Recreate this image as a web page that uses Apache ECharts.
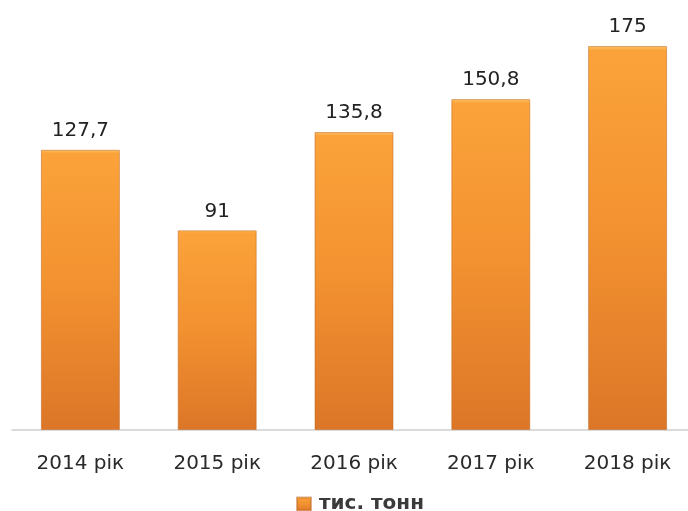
<!DOCTYPE html>
<html><head><meta charset="utf-8">
<script src="https://cdn.jsdelivr.net/npm/echarts@6/dist/echarts.min.js"></script>
<style>html,body{margin:0;padding:0;background:#fff}#c{width:688px;height:511px}</style>
</head><body><div id="c"></div>
<script>
var categories = ['2014 рік','2015 рік','2016 рік','2017 рік','2018 рік'];
var values = [127.7, 91, 135.8, 150.8, 175];
var seriesName = 'тис. тонн';

var chart = echarts.init(document.getElementById('c'));
chart.setOption({
  animation: false,
  grid: {left: 12, width: 684, top: 46, bottom: 81, outerBoundsMode: 'none', containLabel: false},
  legend: {
    data: [seriesName], top: 489, left: 291,
    itemWidth: 14, itemHeight: 13, itemGap: 4,
    icon: 'rect',
    textStyle: {fontFamily: 'DejaVu Sans', fontSize: 20, fontWeight: 'bold', color: '#3a3a3a', padding: [0,0,0,3]}
  },
  xAxis: {
    type: 'category', data: categories,
    axisLine: {lineStyle: {color: '#d0d0d0', width: 1.5}},
    axisTick: {show: false},
    axisLabel: {fontFamily: 'DejaVu Sans', fontSize: 20, color: '#2a2a2a', margin: 24}
  },
  yAxis: {type: 'value', min: 0, max: 175, show: false, splitLine: {show: false}},
  series: [{
    name: seriesName, type: 'bar', data: values, barWidth: 79,
    itemStyle: {
      color: new echarts.graphic.LinearGradient(0,0,0,1,[
        {offset:0, color:'#FFC566'},
        {offset:0.012, color:'#FBA33A'},
        {offset:0.5, color:'#F29130'},
        {offset:1, color:'#DC7628'}
      ]),
      borderColor: 'rgba(190,100,30,0.5)', borderWidth: 1
    },
    label: {
      show: true, position: 'top', distance: 9,
      fontFamily: 'DejaVu Sans', fontSize: 20, color: '#222',
      formatter: function(p){ return String(p.value).replace('.', ','); }
    }
  }]
});
</script></body></html>
